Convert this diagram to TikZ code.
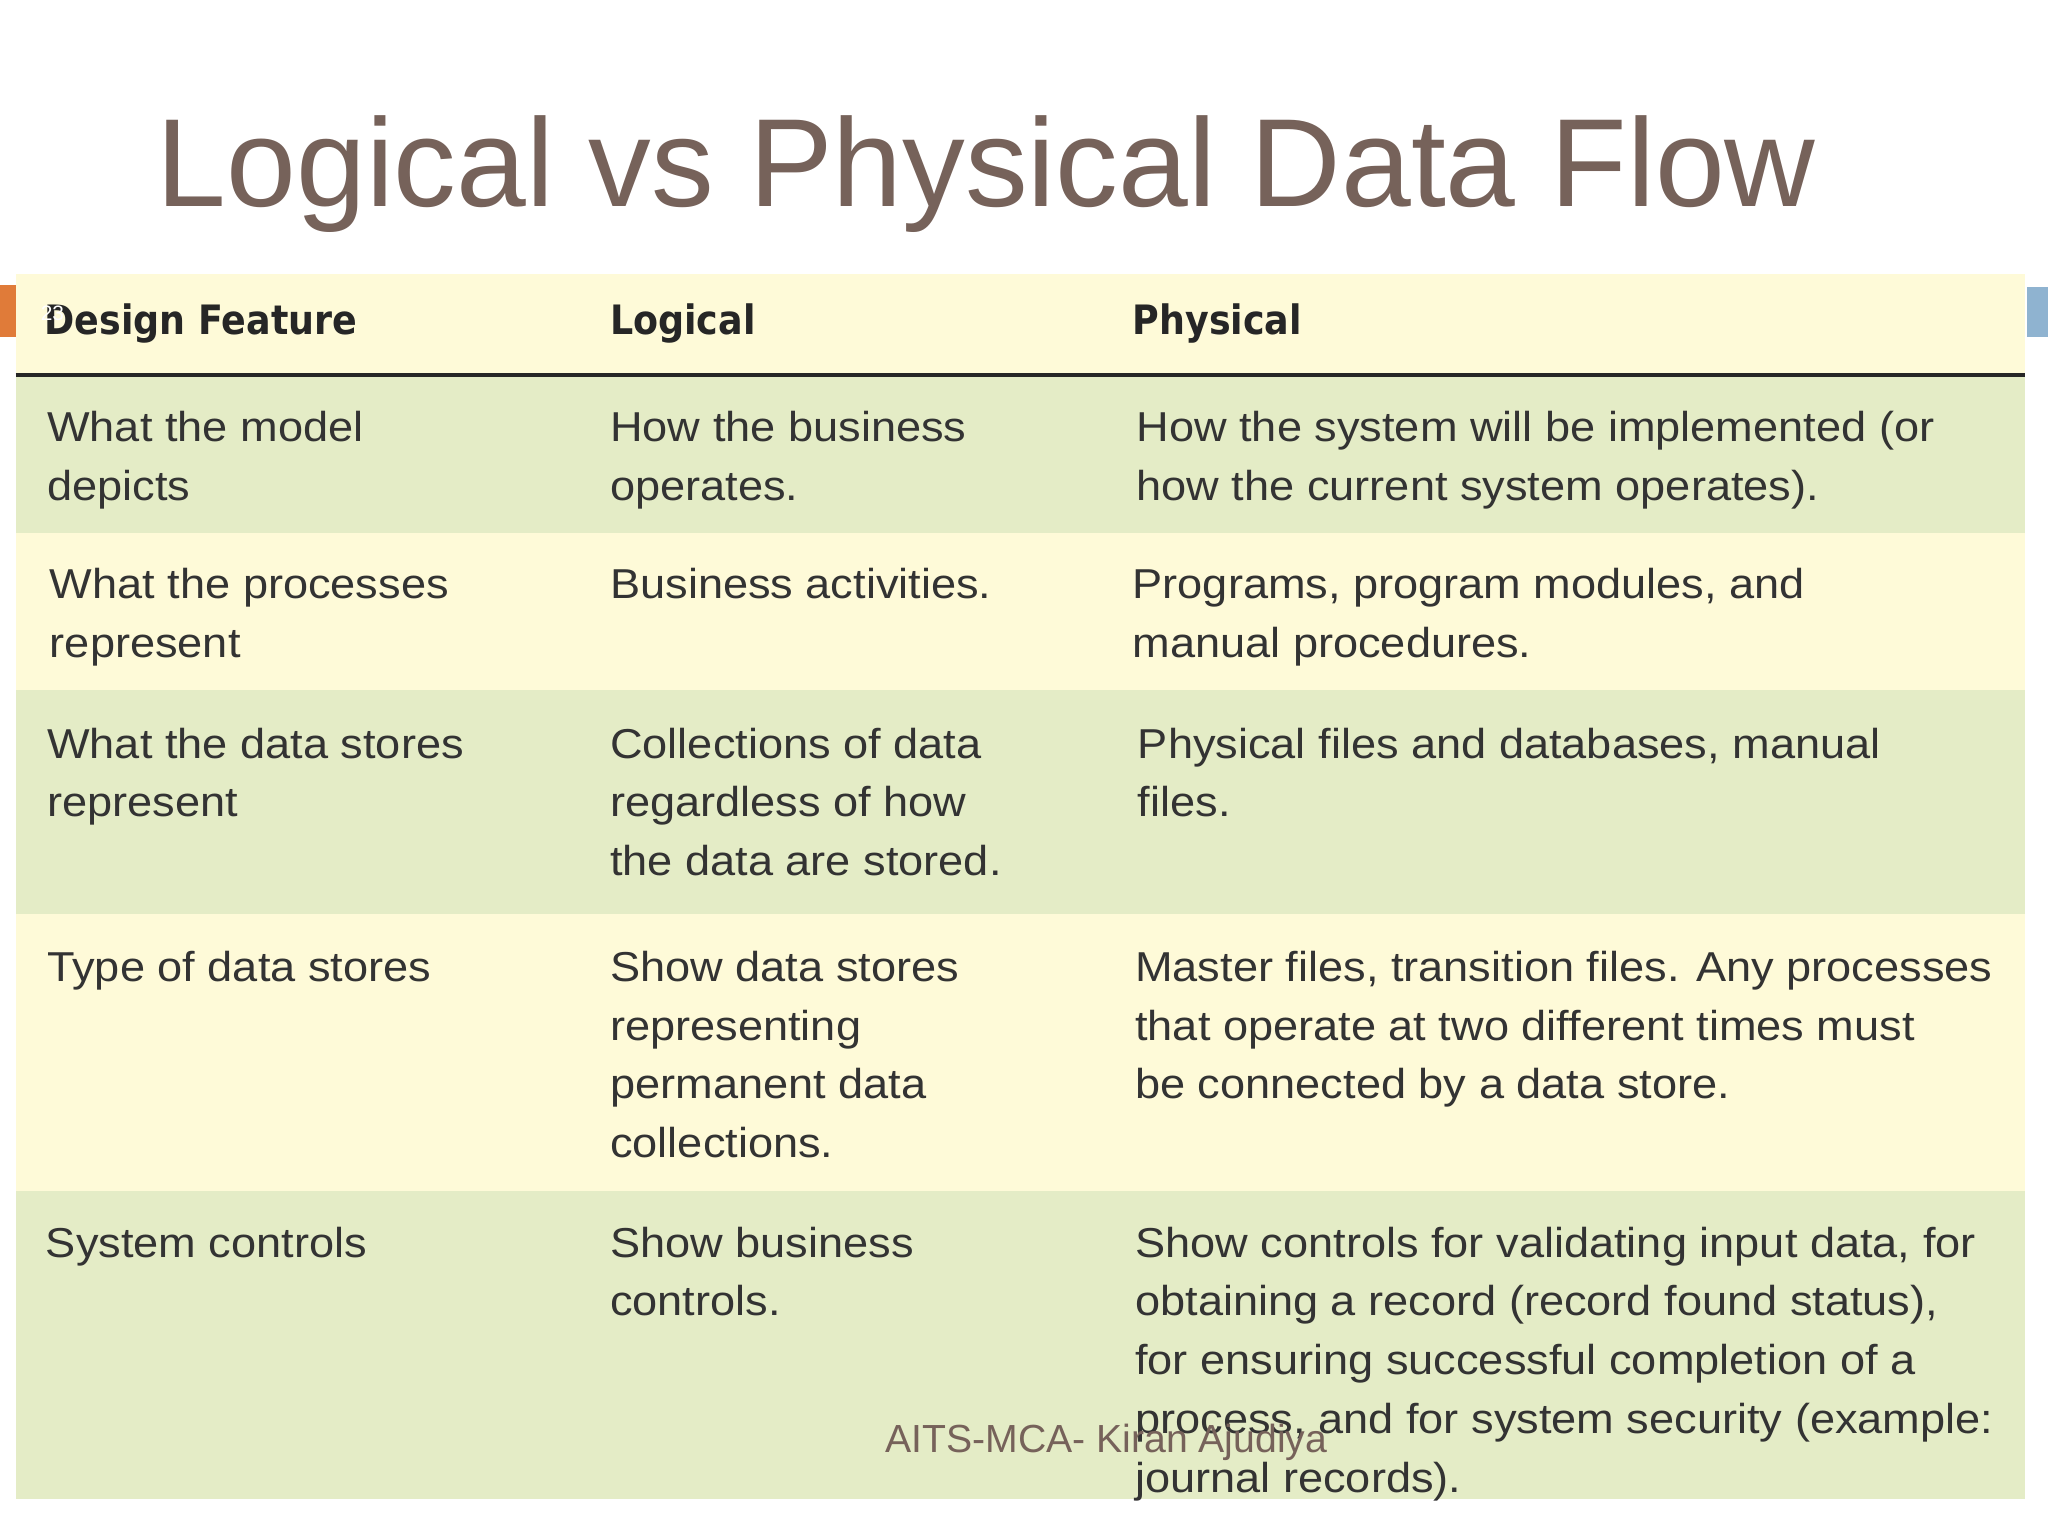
\documentclass[tikz,border=0pt]{standalone}
\usepackage{fontspec}
\setmainfont{Liberation Sans}
\newfontfamily\bodyfont[FakeStretch=1.08]{Liberation Sans}
\newfontfamily\hdfont{DejaVu Sans Condensed}
\definecolor{ylw}{HTML}{FEFAD8}
\definecolor{grn}{HTML}{E4ECC6}
\definecolor{brn}{HTML}{76625A}
\definecolor{txt}{HTML}{333333}
\definecolor{tabor}{HTML}{E07B39}
\definecolor{tabbl}{HTML}{8FB3D0}
\begin{document}
\begin{tikzpicture}[x=1pt,y=-1pt,
  cell/.style={anchor=north west,align=left,inner sep=0pt,text=txt,font=\bodyfont\fontsize{32}{45}\selectfont},
  hd/.style={anchor=west,inner sep=0pt,text=black!85,font=\hdfont\bfseries\fontsize{31}{36}\selectfont}]
\useasboundingbox (0,0) rectangle (1568,1176);
\fill[white] (0,0) rectangle (1568,1176);
\node[anchor=west,inner sep=0pt,text=brn,font=\fontsize{96}{100}\selectfont] (title) at (120,133) {Logical vs Physical Data Flow};
\fill[tabor] (0,218) rectangle (12,258);
\fill[tabbl] (1552,220) rectangle (1568,258);
\fill[ylw] (12,210) rectangle (1550,286);
\fill[grn] (12,288) rectangle (1550,408);
\fill[ylw] (12,408) rectangle (1550,528);
\fill[grn] (12,528) rectangle (1550,700);
\fill[ylw] (12,700) rectangle (1550,912);
\fill[grn] (12,912) rectangle (1550,1148);
\draw[line width=3pt,black!85] (12,287) -- (1550,287);
\node[hd] (h1) at (34,248) {Design Feature};
\node[hd] (h2) at (467,248) {Logical};
\node[hd] (h3) at (867,248) {Physical};
\node[anchor=west,inner sep=0pt,text=white,font=\fontsize{16}{18}\selectfont] (num) at (31,240) {23};
\node[cell] (a1) at (36,315) {What the model\\depicts};
\node[cell] (b1) at (467,315) {How the business\\operates.};
\node[cell] (c1) at (870,315) {How the system will be implemented (or\\how the current system operates).};
\node[cell] (a2) at (38,435) {What the processes\\represent};
\node[cell] (b2) at (467,435) {Business activities.};
\node[cell] (c2) at (867,435) {Programs, program modules, and\\manual procedures.};
\node[cell] (a3) at (36,557) {What the data stores\\represent};
\node[cell] (b3) at (467,557) {Collections of data\\regardless of how\\the data are stored.};
\node[cell] (c3) at (871,557) {Physical files and databases, manual\\files.};
\node[cell] (a4) at (36,728) {Type of data stores};
\node[cell] (b4) at (467,728) {Show data stores\\representing\\permanent data\\collections.};
\node[cell] (c4) at (869,728) {Master files, transition files. Any processes\\that operate at two different times must\\be connected by a data store.};
\node[cell] (a5) at (35,939) {System controls};
\node[cell] (b5) at (467,939) {Show business\\controls.};
\node[cell] (c5) at (869,939) {Show controls for validating input data, for\\obtaining a record (record found status),\\for ensuring successful completion of a\\process, and for system security (example:\\journal records).};
\node[anchor=center,inner sep=0pt,text=brn,font=\fontsize{30}{32}\selectfont] (foot) at (847,1104) {AITS-MCA- Kiran Ajudiya};
\end{tikzpicture}
\end{document}
